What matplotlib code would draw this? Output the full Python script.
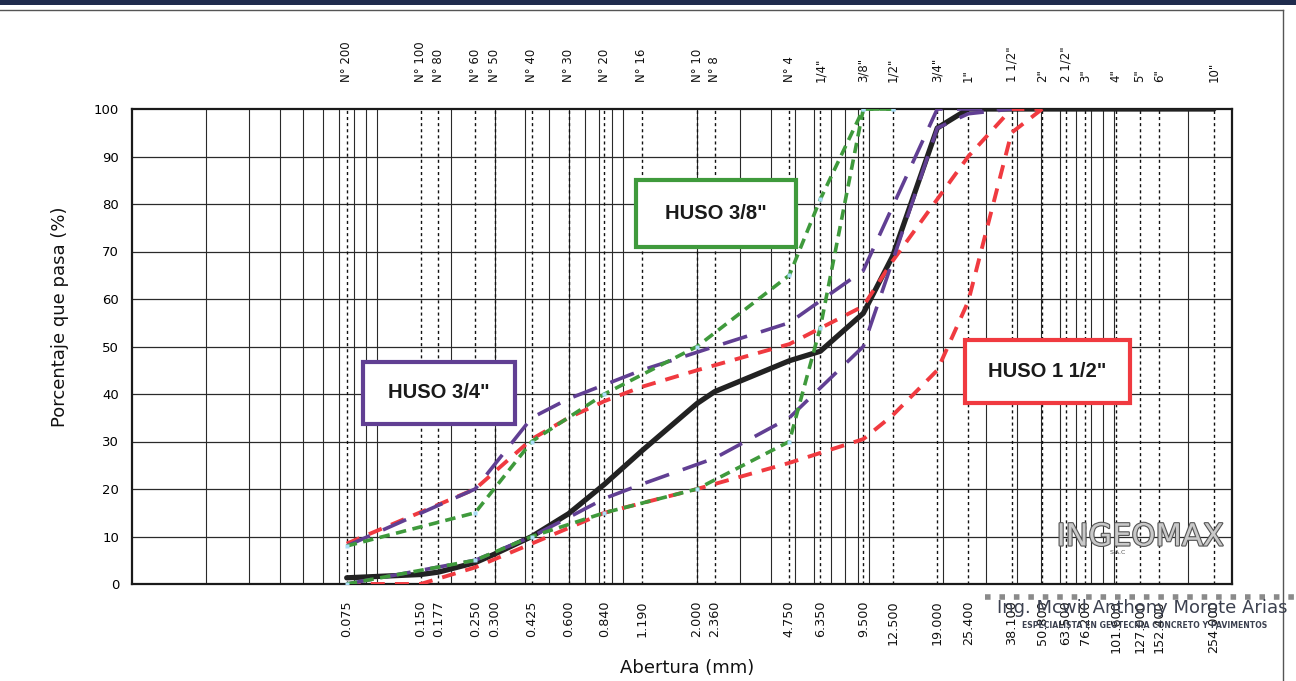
import numpy as np
import matplotlib
matplotlib.use("Agg")
import matplotlib.pyplot as plt
from matplotlib.patches import Rectangle
from matplotlib.lines import Line2D
import matplotlib.patheffects as pe
import matplotlib.transforms as mtransforms

# --- sieve series (mm) and their names ---
sieve_mm = [0.075, 0.150, 0.177, 0.250, 0.300, 0.425, 0.600, 0.840, 1.190, 2.000,
            2.360, 4.750, 6.350, 9.500, 12.500, 19.000, 25.400, 38.100, 50.800,
            63.500, 76.200, 101.600, 127.000, 152.400, 254.000]
sieve_names = ['N° 200', 'N° 100', 'N° 80', 'N° 60', 'N° 50', 'N° 40', 'N° 30',
               'N° 20', 'N° 16', 'N° 10', 'N° 8', 'N° 4', '1/4"', '3/8"', '1/2"',
               '3/4"', '1"', '1 1/2"', '2"', '2 1/2"', '3"', '4"', '5"', '6"', '10"']

# --- sample curve (% passing) ---
sample_mm = sieve_mm
sample_pct = [1.3, 2.0, 2.5, 4.5, 6.3, 10.0, 14.8, 21.0, 28.0, 38.0,
              40.5, 47.0, 49.0, 57.0, 69.0, 96.0, 100, 100, 100,
              100, 100, 100, 100, 100, 100]

# --- HUSO 3/8" limits ---
h38_up_mm = [0.075, 0.25, 0.425, 0.84, 2.0, 4.75, 6.35, 9.5, 12.5]
h38_up_pct = [8, 15, 30, 40, 50, 65, 81, 100, 100]
h38_lo_mm = [0.075, 0.25, 0.425, 0.84, 2.0, 4.75, 6.35, 9.5, 12.5]
h38_lo_pct = [0, 5, 10, 15, 20, 30, 54, 100, 100]

# --- HUSO 3/4" limits ---
h34_up_mm = [0.075, 0.25, 0.425, 0.6, 1.19, 2.36, 4.75, 9.5, 19.0, 38.1]
h34_up_pct = [8, 20, 35, 39, 45, 50, 55, 66, 100, 100]
h34_lo_mm = [0.075, 0.25, 0.425, 0.6, 0.84, 1.19, 2.36, 4.75, 9.5, 12.5, 19.0, 25.4, 38.1]
h34_lo_pct = [0, 5, 10, 14, 18, 21, 26.5, 35, 50, 68, 96, 99, 100]

# --- HUSO 1 1/2" limits ---
h112_up_mm = [0.075, 0.25, 0.425, 0.6, 0.84, 1.19, 2.0, 4.75, 9.5, 12.5, 19.0, 25.4, 38.1, 50.8]
h112_up_pct = [8.5, 20, 30.5, 35, 38.5, 41.5, 45, 50.5, 58.5, 68, 81, 90, 100, 100]
h112_lo_mm = [0.075, 0.15, 0.25, 0.425, 0.84, 2.0, 4.75, 9.5, 12.5, 19.0, 25.4, 38.1, 50.8]
h112_lo_pct = [0, 0, 3.5, 8.5, 15, 20, 25.5, 30.5, 35.5, 45, 59.5, 95, 100]

GREEN = '#3f9a3c'
PURPLE = '#613f93'
RED = '#f03a40'
BLACK = '#222222'
FONT = 'DejaVu Sans'

W, H = 1296, 681
fig = plt.figure(figsize=(W / 100, H / 100), dpi=100)
ax = fig.add_axes([131.7 / W, 1 - 584 / H, 1100 / W, 475 / H])
ax.set_xscale('log')
ax.set_xlim(0.01, 300)
ax.set_ylim(0, 100)

# grid: log grid solid, sieves dashed, horizontal every 10 %
for dec in [0.01, 0.1, 1, 10, 100]:
    for k in range(1, 10):
        v = dec * k
        if 0.01 < v < 300:
            ax.axvline(v, color='#2a2a2a', lw=0.8, zorder=1)
for v in sieve_mm:
    ax.axvline(v, color='#111111', lw=1.0, ls=(0, (2.2, 2.2)), zorder=1.2)
for p in range(10, 100, 10):
    ax.axhline(p, color='#2a2a2a', lw=0.9, zorder=1)

for s in ax.spines.values():
    s.set_linewidth(1.6)
    s.set_color('#1a1a1a')

# curves
ax.plot(sample_mm, sample_pct, color=BLACK, lw=3.8, solid_joinstyle='round',
        solid_capstyle='round', zorder=4)
for xs, ys in [(h112_up_mm, h112_up_pct), (h112_lo_mm, h112_lo_pct)]:
    ax.plot(xs, ys, color=RED, lw=2.8, dashes=(3.6, 2.6), zorder=5)
for xs, ys in [(h34_up_mm, h34_up_pct), (h34_lo_mm, h34_lo_pct)]:
    ax.plot(xs, ys, color=PURPLE, lw=2.6, dashes=(7, 4), zorder=6)
for xs, ys in [(h38_up_mm, h38_up_pct), (h38_lo_mm, h38_lo_pct)]:
    ax.plot(xs, ys, color=GREEN, lw=2.6, dashes=(2.9, 1.8), zorder=7)
    ax.plot(xs, ys, ls='none', marker='s', ms=3.2, mfc='#a9def7', mec='none', zorder=8)

# axis ticks
ax.set_yticks(range(0, 101, 10))
ax.set_yticklabels([str(v) for v in range(0, 101, 10)], fontsize=9.5, family=FONT)
ax.tick_params(axis='y', length=0, pad=9)
ax.set_xticks([])
ax.set_xticks([], minor=True)

trans = mtransforms.blended_transform_factory(ax.transData, ax.transAxes)
for v, name in zip(sieve_mm, sieve_names):
    ax.text(v, 1.057, name, transform=trans, rotation=90, ha='center', va='bottom',
            fontsize=8.5, family=FONT, color='#111111')
    ax.text(v, -0.034, f"{v:.3f}", transform=trans, rotation=90, ha='center', va='top',
            fontsize=9.2, family=FONT, color='#111111')

fig.text(60 / W, 1 - 317 / H, 'Porcentaje que pasa (%)', rotation=90, ha='center',
         va='center', fontsize=13, family=FONT, color='#111111')
fig.text(687 / W, 1 - 668 / H, 'Abertura (mm)', ha='center', va='center',
         fontsize=13, family=FONT, color='#111111')

# label boxes (axes fraction)
boxes = [('HUSO 3/4"', PURPLE, 363, 515, 362, 424),
         ('HUSO 3/8"', GREEN, 636, 796, 180, 247),
         ('HUSO 1 1/2"', RED, 965, 1130, 340, 403)]
for label, col, x0, x1, y0, y1 in boxes:
    ax0 = (x0 - 131.7) / 1100
    ax1 = (x1 - 131.7) / 1100
    ay0 = (584 - y1) / 475
    ay1 = (584 - y0) / 475
    ax.add_patch(Rectangle((ax0, ay0), ax1 - ax0, ay1 - ay0, transform=ax.transAxes,
                           facecolor='white', edgecolor=col, lw=3, zorder=10))
    ax.text((ax0 + ax1) / 2, (ay0 + ay1) / 2, label, transform=ax.transAxes,
            ha='center', va='center', fontsize=14.5, fontweight='bold',
            family='Liberation Sans', color='#1a1a1a', zorder=11)

# stamp
fig.text(1140 / W, 1 - 537 / H, 'INGEOMAX', ha='center', va='center', fontsize=22,
         family=FONT, color='#c9c9c9',
         path_effects=[pe.withStroke(linewidth=1.6, foreground='#555555')], zorder=20)
fig.text(1118 / W, 1 - 553 / H, 'S.A.C', ha='center', va='center', fontsize=4.5,
         family=FONT, color='#555555', zorder=20)
fig.add_artist(Line2D([985 / W, 1.0], [1 - 597 / H, 1 - 597 / H], color='#8a8a8a',
                      lw=4, ls=(0, (1, 1.6))))
fig.text(1142 / W, 1 - 608 / H, 'Ing. Mcwil Anthony Morote Arias', ha='center',
         va='center', fontsize=13, family=FONT, color='#3c4150', zorder=20)
fig.text(1145 / W, 1 - 626 / H, 'ESPECIALISTA EN GEOTECNIA CONCRETO Y PAVIMENTOS',
         ha='center', va='center', fontsize=5.6, fontweight='bold', family=FONT,
         color='#3c4150', zorder=20)

# outer frame
fig.add_artist(Rectangle((0, 1 - 5 / H), 1, 5 / H, transform=fig.transFigure,
                         facecolor='#1f2b4d', edgecolor='none'))
fig.add_artist(Line2D([0, 1283 / W], [1 - 10 / H, 1 - 10 / H], color='#555555', lw=1))
fig.add_artist(Line2D([1283 / W, 1283 / W], [1 - 10 / H, 0], color='#555555', lw=1))

fig.savefig('out.png', dpi=100)
